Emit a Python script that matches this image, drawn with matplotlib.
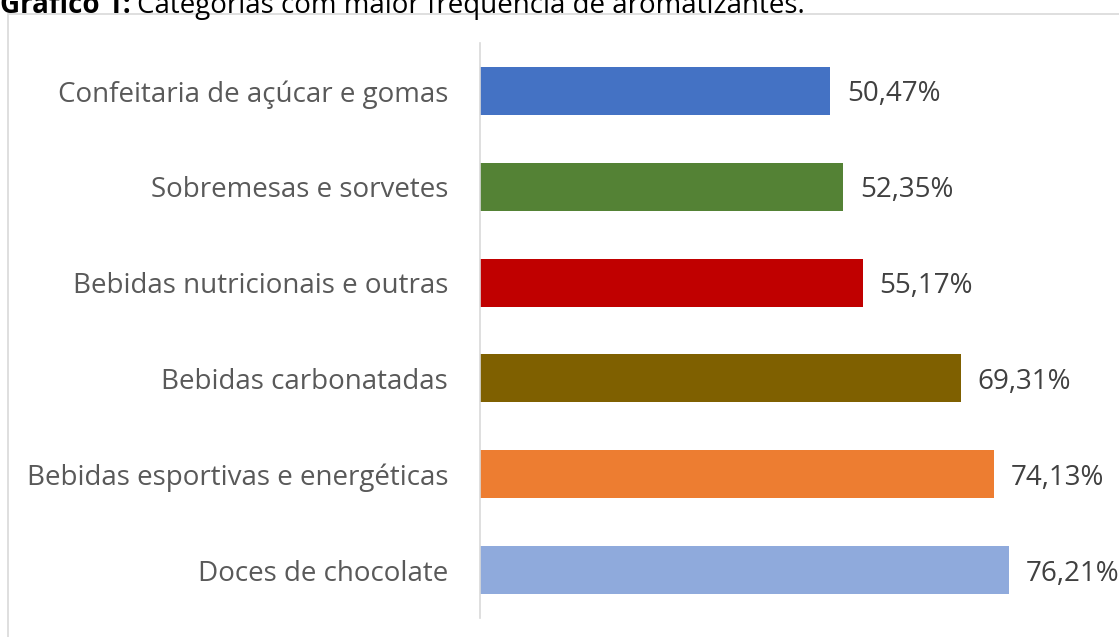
import matplotlib.pyplot as plt
from matplotlib.patches import Rectangle

categorias = ["Doces de chocolate", "Bebidas esportivas e energéticas", "Bebidas carbonatadas",
              "Bebidas nutricionais e outras", "Sobremesas e sorvetes", "Confeitaria de açúcar e gomas"]
valores = [76.21, 74.13, 69.31, 55.17, 52.35, 50.47]
cores = ["#8FAADC", "#ED7D31", "#7F6000", "#C00000", "#548235", "#4472C4"]
rotulos = ["76,21%", "74,13%", "69,31%", "55,17%", "52,35%", "50,47%"]

W, H = 1119, 637
fig = plt.figure(figsize=(W / 100, H / 100), dpi=100)
plt.rcParams['font.family'] = ['Open Sans', 'DejaVu Sans']

# caixa do grafico
fig.patches.append(Rectangle((8 / W, -0.1), 1.2, (H - 14) / H + 0.1, transform=fig.transFigure,
                             fill=False, edgecolor="#D9D9D9", linewidth=1.2))

# titulo (cortado no topo, como no original)
fig.text(0, 1 - 13 / H, "Gráfico 1:", fontsize=20, fontweight="bold", va="baseline", color="black")
fig.text(137 / W, 1 - 13 / H, "Categorias com maior frequência de aromatizantes.", fontsize=20,
         va="baseline", color="black")

ax = fig.add_axes([480 / W, 19 / H, (W - 480) / W, (618 - 43) / H])
y = range(len(categorias))
ax.barh(y, valores, height=0.5, color=cores)
for i, v in enumerate(valores):
    ax.text(v + 2.4, i, rotulos[i], va="center_baseline", ha="left", fontsize=20, color="#404040")

ax.set_ylim(-0.5, 5.5)
ax.set_xlim(0, (W - 480) / 6.94)
ax.set_yticks(list(y))
ax.set_yticklabels(categorias, fontsize=20, color="#595959")
ax.tick_params(axis="y", length=0, pad=23)
ax.set_xticks([])
for s in ["top", "right", "bottom"]:
    ax.spines[s].set_visible(False)
ax.spines["left"].set_color("#D9D9D9")
ax.spines["left"].set_linewidth(1.2)
ax.patch.set_visible(False)

fig.savefig("out.png", dpi=100)
